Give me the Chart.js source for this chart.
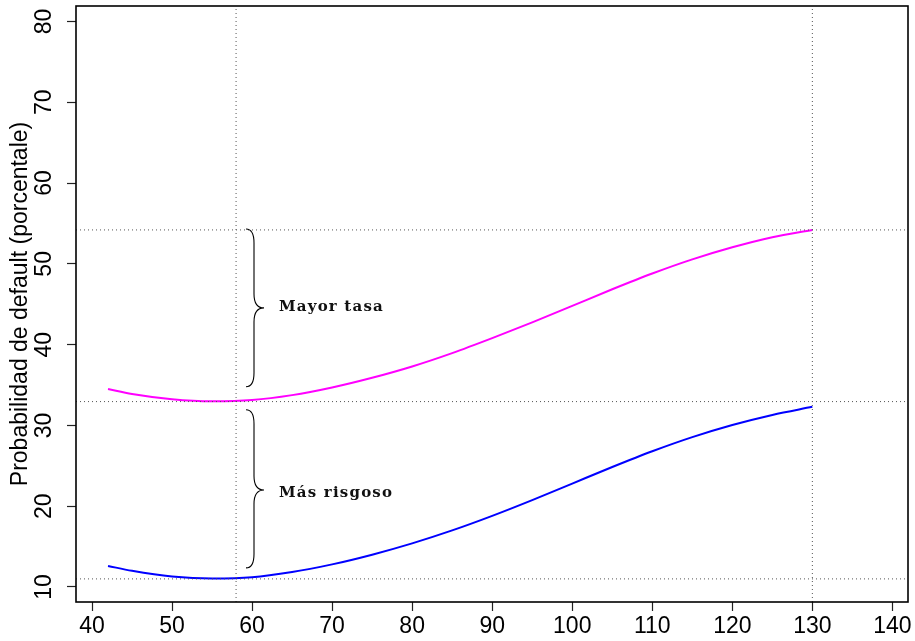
<!DOCTYPE html>
<html>
<head>
<meta charset="utf-8">
<script src="https://cdn.jsdelivr.net/npm/chart.js@4/dist/chart.umd.min.js"></script>
<style>
  body { margin: 0; background: #fff; }
  #wrap { width: 915px; height: 641px; }
</style>
</head>
<body>
<div id="wrap"><canvas id="grafico" width="915" height="641"></canvas></div>
<script>
// datos
const xValores = [42, 45, 50, 55, 60, 65, 70, 75, 80, 85, 90, 95, 100, 105, 110, 115, 120, 125, 130];
const mayorTasa = [34.5, 33.9, 33.25, 33.0, 33.15, 33.75, 34.7, 35.9, 37.3, 38.95, 40.8, 42.75, 44.8, 46.85, 48.8, 50.55, 52.05, 53.3, 54.2];
const masRiesgo = [12.6, 12.0, 11.3, 11.05, 11.2, 11.85, 12.8, 14.0, 15.4, 17.0, 18.8, 20.75, 22.8, 24.85, 26.8, 28.55, 30.05, 31.3, 32.3];
const lineasX = [58, 130];           // lineas verticales punteadas
const lineasY = [54.2, 32.95, 11.0]; // lineas horizontales punteadas
const ejeX = [38.0, 141.95];
const ejeY = [8.14, 81.92];
const tituloY = 'Probabilidad de default (porcentale)';
// llaves: [x inicio, y arriba, y abajo, y punta, y texto, texto]
const llaves = [
  [59.24, 54.32, 34.78, 44.55, 44.6, 'Mayor tasa'],
  [59.24, 31.93, 12.36, 22.0, 21.6, 'M\u00e1s risgoso']
];

const serie = (ys) => xValores.map((x, i) => ({ x: x, y: ys[i] }));

const punteada = {
  borderColor: '#555', borderWidth: 1, borderDash: [1, 3],
  pointRadius: 0, fill: false, tension: 0
};

const datasets = [];
lineasY.forEach((y) => {
  datasets.push(Object.assign({ data: [{ x: ejeX[0], y: y }, { x: ejeX[1], y: y }] }, punteada));
});
lineasX.forEach((x) => {
  datasets.push(Object.assign({ data: [{ x: x, y: ejeY[0] }, { x: x, y: ejeY[1] }] }, punteada));
});
datasets.push({
  data: serie(mayorTasa), borderColor: '#ff00ff', borderWidth: 2,
  pointRadius: 0, cubicInterpolationMode: 'monotone', fill: false
});
datasets.push({
  data: serie(masRiesgo), borderColor: '#0000ff', borderWidth: 2,
  pointRadius: 0, cubicInterpolationMode: 'monotone', fill: false
});

const fuente = { family: '"Liberation Sans", Arial, sans-serif', size: 23 };

// caja, etiquetas verticales del eje y, llaves con texto
const extras = {
  id: 'extras',
  afterDraw(chart) {
    const ctx = chart.ctx;
    const sx = chart.scales.x, sy = chart.scales.y;
    const a = chart.chartArea;
    ctx.save();
    ctx.strokeStyle = '#000';
    ctx.lineWidth = 1.6;
    ctx.strokeRect(a.left, a.top, a.right - a.left, a.bottom - a.top);

    // etiquetas del eje y giradas como en R
    ctx.fillStyle = '#000';
    ctx.font = '23px "Liberation Sans", Arial, sans-serif';
    ctx.textAlign = 'center';
    ctx.textBaseline = 'middle';
    sy.ticks.forEach((t) => {
      const py = sy.getPixelForValue(t.value);
      ctx.save();
      ctx.translate(a.left - 31, py);
      ctx.rotate(-Math.PI / 2);
      ctx.fillText(String(t.value), 0, 0);
      ctx.restore();
    });

    llaves.forEach((l) => {
      const x0 = sx.getPixelForValue(l[0]);
      const y1 = sy.getPixelForValue(l[1]);
      const y2 = sy.getPixelForValue(l[2]);
      const ym = sy.getPixelForValue(l[3]);
      const xm = x0 + 8, xt = x0 + 18, r = 14;
      ctx.beginPath();
      ctx.lineWidth = 1.1;
      ctx.moveTo(x0, y1);
      ctx.quadraticCurveTo(xm, y1, xm, y1 + r);
      ctx.lineTo(xm, ym - r);
      ctx.quadraticCurveTo(xm, ym, xt, ym);
      ctx.quadraticCurveTo(xm, ym, xm, ym + r);
      ctx.lineTo(xm, y2 - r);
      ctx.quadraticCurveTo(xm, y2, x0, y2);
      ctx.stroke();

      ctx.fillStyle = '#111';
      ctx.font = 'bold 15px "DejaVu Serif"';
      ctx.letterSpacing = '1.2px';
      ctx.textBaseline = 'middle';
      ctx.textAlign = 'left';
      ctx.fillText(l[5], xt + 15, sy.getPixelForValue(l[4]));
      ctx.letterSpacing = '0px';
    });
    ctx.restore();
  }
};

new Chart(document.getElementById('grafico'), {
  type: 'line',
  data: { datasets: datasets },
  options: {
    responsive: false,
    animation: false,
    layout: { padding: { top: 6, right: 7, left: 0, bottom: 0 } },
    plugins: { legend: { display: false }, tooltip: { enabled: false } },
    scales: {
      x: {
        type: 'linear', min: ejeX[0], max: ejeX[1],
        border: { display: false },
        grid: { drawOnChartArea: false, tickLength: 9, tickColor: '#222', tickWidth: 1.2 },
        ticks: { stepSize: 10, includeBounds: false, color: '#000', font: fuente, padding: 2, maxRotation: 0 },
        afterFit: (s) => { s.height = 39; s.paddingLeft = 0; s.paddingRight = 0; }
      },
      y: {
        type: 'linear', min: ejeY[0], max: ejeY[1],
        border: { display: false },
        grid: { drawOnChartArea: false, tickLength: 9, tickColor: '#222', tickWidth: 1.2 },
        ticks: { stepSize: 10, includeBounds: false, display: false },
        title: { display: true, text: tituloY, color: '#000', font: fuente, padding: { top: 7, bottom: 0 } },
        afterFit: (s) => { s.width = 76; s.paddingTop = 0; s.paddingBottom = 0; }
      }
    }
  },
  plugins: [extras]
});
</script>
</body>
</html>
